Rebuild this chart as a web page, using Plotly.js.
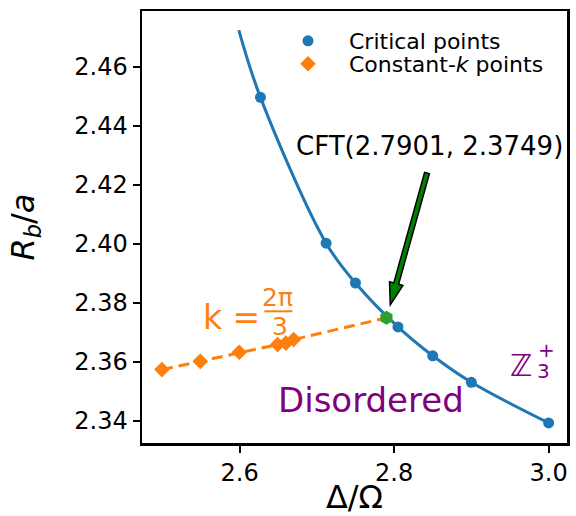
<!DOCTYPE html>
<html><head><meta charset="utf-8">
<script src="https://cdn.plot.ly/plotly-3.0.1.min.js"></script>
<style>html,body{margin:0;padding:0;background:#fff;} #chart{width:576px;height:516px;}</style>
</head><body><div id="chart"></div>
<script>
// Critical points (blue)
const critX = [2.627, 2.712, 2.750, 2.805, 2.850, 2.900, 3.000];
const critY = [2.4497, 2.4002, 2.3867, 2.3718, 2.3620, 2.3530, 2.3392];
// Fitted curve through critical points
const fitX = [2.599, 2.627, 2.712, 2.750, 2.805, 2.850, 2.900, 3.000];
const fitY = [2.4725, 2.4497, 2.4002, 2.3867, 2.3718, 2.3620, 2.3530, 2.3392];
// Constant-k points (orange)
const kX = [2.4995, 2.5491, 2.5996, 2.6492, 2.6600, 2.6700];
const kY = [2.3573, 2.3601, 2.3632, 2.3658, 2.3663, 2.3675];
// CFT point
const cftX = [2.7901];
const cftY = [2.3749];
// Ticks
const xTicks = [2.6, 2.8, 3.0];
const xTickText = ['2.6', '2.8', '3.0'];
const yTicks = [2.34, 2.36, 2.38, 2.40, 2.42, 2.44, 2.46];
const yTickText = ['2.34', '2.36', '2.38', '2.40', '2.42', '2.44', '2.46'];

const BLUE = '#1f77b4', ORANGE = '#ff7f0e', GREEN = '#2ca02c', PURPLE = '#800080';
const FONT = 'DejaVu Sans';

const traces = [
  {x: fitX, y: fitY, mode: 'lines', line: {color: BLUE, width: 3, shape: 'spline', smoothing: 1}, showlegend: false, hoverinfo: 'skip'},
  {x: kX.concat(cftX), y: kY.concat(cftY), mode: 'lines', line: {color: ORANGE, width: 3, dash: '11px,6px'}, showlegend: false, hoverinfo: 'skip'},
  {x: cftX, y: cftY, mode: 'markers', marker: {symbol: 'hexagon', size: 14, color: GREEN}, showlegend: false},
  {x: critX, y: critY, mode: 'markers', name: 'Critical points', legend: 'legend', marker: {symbol: 'circle', size: 11, color: BLUE}},
  {x: kX, y: kY, mode: 'markers', name: 'Constant-<i>k</i> points', legend: 'legend2', marker: {symbol: 'diamond', size: 12, color: ORANGE}}
];

const legendBase = {x: 0.2941, xanchor: 'left', yanchor: 'middle', itemwidth: 72, bgcolor: 'rgba(0,0,0,0)', borderwidth: 0, font: {size: 22, family: FONT, color: '#000'}};

const layout = {
  width: 576, height: 516,
  margin: {l: 142, r: 9, t: 11, b: 73},
  paper_bgcolor: '#fff', plot_bgcolor: '#fff',
  font: {family: FONT, color: '#000'},
  showlegend: true,
  legend: Object.assign({}, legendBase, {y: 0.9306}),
  legend2: Object.assign({}, legendBase, {y: 0.8773}),
  xaxis: {
    range: [2.4737, 3.0238], tickvals: xTicks, ticktext: xTickText,
    ticks: 'outside', ticklen: 7, tickwidth: 2, tickcolor: '#000',
    showline: true, linewidth: 2.5, linecolor: '#000', mirror: true,
    showgrid: false, zeroline: false,
    tickfont: {size: 24, family: FONT},
    title: {text: 'Δ/Ω', font: {size: 32, family: FONT}, standoff: 27}
  },
  yaxis: {
    range: [2.3324, 2.479], tickvals: yTicks, ticktext: yTickText,
    ticks: 'outside', ticklen: 7, tickwidth: 2, tickcolor: '#000',
    showline: true, linewidth: 2.5, linecolor: '#000', mirror: true,
    showgrid: false, zeroline: false,
    tickfont: {size: 24, family: FONT},
    title: {text: '<i>R</i><sub><i>b</i></sub>/<i>a</i>', font: {size: 32, family: FONT}, standoff: 30}
  },
  annotations: [
    {x: 2.8456, y: 2.4332, xref: 'x', yref: 'y', text: 'CFT(2.7901, 2.3749)', showarrow: false, font: {size: 26, family: FONT, color: '#000'}},
    {x: 2.7700, y: 2.3471, xref: 'x', yref: 'y', text: 'Disordered', showarrow: false, font: {size: 34, family: FONT, color: PURPLE}},
    {x: 2.5893, y: 2.3749, xref: 'x', yref: 'y', text: 'k =', showarrow: false, font: {size: 33, family: FONT, color: ORANGE}},
    {x: 2.6495, y: 2.3819, xref: 'x', yref: 'y', text: '2π', showarrow: false, font: {size: 25, family: FONT, color: ORANGE}},
    {x: 2.6527, y: 2.3720, xref: 'x', yref: 'y', text: '3', showarrow: false, font: {size: 25, family: FONT, color: ORANGE}},
    {x: 2.9647, y: 2.3586, xref: 'x', yref: 'y', text: 'ℤ', showarrow: false, font: {size: 30, family: FONT, color: PURPLE}},
    {x: 2.9970, y: 2.3640, xref: 'x', yref: 'y', text: '+', showarrow: false, height: 15, font: {size: 20, family: FONT, color: PURPLE}},
    {x: 2.9938, y: 2.3570, xref: 'x', yref: 'y', text: '3', showarrow: false, height: 15, font: {size: 20, family: FONT, color: PURPLE}}
  ],
  shapes: [
    {type: 'line', xref: 'x', yref: 'y', x0: 2.632, x1: 2.6683, y0: 2.3771, y1: 2.3771, line: {color: ORANGE, width: 2}},
    {type: 'path', xref: 'x', yref: 'y', xsizemode: 'pixel', ysizemode: 'pixel', xanchor: cftX[0], yanchor: cftY[0],
     path: 'M3.85,13 L16.45,32.3 L12.15,33.5 L42.95,144 L38.15,145.4 L7.35,34.9 L3.05,36.1 Z',
     fillcolor: '#008000', line: {color: '#000', width: 1.5}, layer: 'above'}
  ]
};

Plotly.newPlot('chart', traces, layout, {displayModeBar: false, staticPlot: true});
</script>
</body></html>
